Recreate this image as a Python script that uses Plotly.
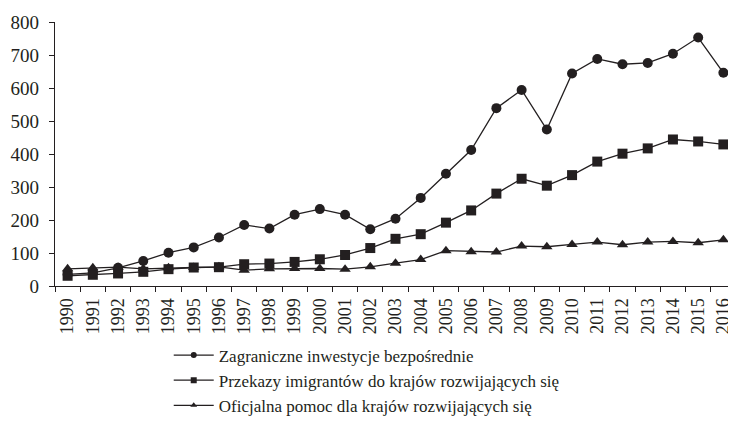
import plotly.graph_objects as go

years = [str(y) for y in range(1990, 2017)]
fdi = [35, 40, 55, 76, 101, 117, 147, 185, 174, 216, 233, 216, 172, 204, 267, 340, 412,
       539, 594, 474, 644, 688, 672, 676, 704, 753, 646]
remit = [31, 34, 38, 43, 51, 56, 57, 66, 68, 73, 81, 94, 115, 143, 157, 192, 229,
         280, 325, 304, 336, 377, 401, 417, 444, 438, 429]
oda = [52, 55, 57, 52, 55, 56, 58, 48, 52, 53, 53, 51, 58, 69, 80, 107, 104,
       103, 121, 119, 126, 133, 125, 133, 135, 131, 140]
names = ["Zagraniczne inwestycje bezpośrednie",
         "Przekazy imigrantów do krajów rozwijających się",
         "Oficjalna pomoc dla krajów rozwijających się"]
symbols = ["circle", "square", "triangle-up"]
series = [fdi, remit, oda]

C = "#231f20"
FONT = "Liberation Serif"
fig = go.Figure()
for vals, nm, sym in zip(series, names, symbols):
    fig.add_trace(go.Scatter(
        x=years, y=vals, mode="lines+markers", name=nm, showlegend=False,
        cliponaxis=False,
        line=dict(color=C, width=1.3),
        marker=dict(symbol=sym, size=10, color=C)))
for nm, sym in zip(names, symbols):
    fig.add_trace(go.Scatter(
        x=[None], y=[None], mode="lines+markers", name=nm,
        line=dict(color=C, width=1.3),
        marker=dict(symbol=sym, size=6, color=C)))

# the page body adds an 8px offset; width/height/margins compensate for it
fig.update_layout(
    template="none",
    width=728, height=414,
    margin=dict(l=47, r=0, t=14, b=136, autoexpand=False),
    paper_bgcolor="white", plot_bgcolor="white",
    font=dict(family=FONT, size=18, color=C),
    xaxis=dict(type="category", range=[-0.5, 26.5], tickson="boundaries",
               ticks="outside", ticklen=5, tickcolor=C, showline=True,
               linecolor=C, linewidth=1.3, showgrid=False, tickangle=-90,
               tickfont=dict(family=FONT, size=18, color=C), zeroline=False,
               automargin=False, ticklabelstandoff=4),
    yaxis=dict(range=[0, 800], dtick=100, ticks="outside", ticklen=5,
               tickcolor=C, showline=True, linecolor=C, linewidth=1.3,
               showgrid=False, zeroline=False, automargin=False,
               tickfont=dict(family=FONT, size=19, color=C), ticklabelstandoff=6),
    legend=dict(x=0.167, xref="paper", y=0.204, yref="container",
                xanchor="left", yanchor="top",
                font=dict(family=FONT, size=17, color=C), tracegroupgap=0,
                itemwidth=40, bgcolor="rgba(0,0,0,0)"),
)
fig.write_html("out.html")
